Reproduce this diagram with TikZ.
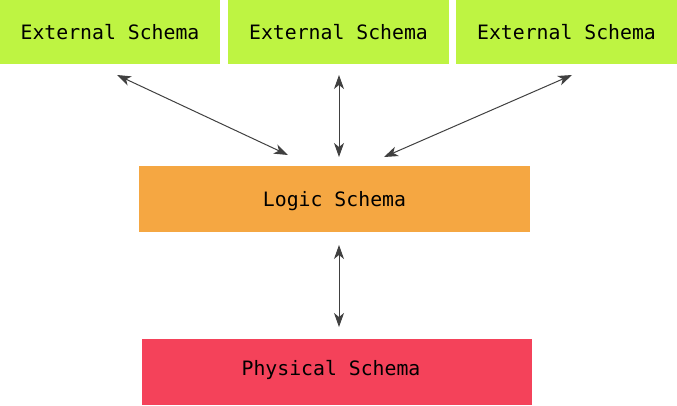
\documentclass[tikz,border=0pt]{standalone}
\usepackage{fontspec}
\setmonofont{DejaVu Sans Mono}
\usetikzlibrary{arrows.meta}
\definecolor{extgreen}{HTML}{BEF442}
\definecolor{logorange}{HTML}{F5A742}
\definecolor{physred}{HTML}{F4425A}
\definecolor{arrowgray}{HTML}{404040}
\begin{document}
\begin{tikzpicture}[x=1pt,y=-1pt,
  box/.style={rectangle,inner sep=0pt,outer sep=0pt,text height=14.4pt,text depth=0pt,
    font=\ttfamily\fontsize{19.8}{21}\selectfont,text=black},
  link/.style={draw=arrowgray,line width=1pt,
    {Stealth[length=14pt,width=10pt,inset=4pt]}-{Stealth[length=14pt,width=10pt,inset=4pt]}}]
\useasboundingbox (0,0) rectangle (677,405);
\node[box,fill=extgreen,minimum width=220pt,minimum height=64pt] (e1) at (110,32) {External Schema};
\node[box,fill=extgreen,minimum width=221pt,minimum height=64pt] (e2) at (338.5,32) {External Schema};
\node[box,fill=extgreen,minimum width=221pt,minimum height=64pt] (e3) at (566.5,32) {External Schema};
\node[box,fill=logorange,minimum width=391pt,minimum height=66pt] (lg) at (334.5,199) {Logic Schema};
\node[box,fill=physred,minimum width=390pt,minimum height=66pt,text depth=8pt] (ph) at (337,372) {Physical Schema\hspace*{12pt}};
\coordinate (a1s) at (117,75);
\coordinate (a1e) at (288,155);
\coordinate (a2s) at (339,75);
\coordinate (a2e) at (339,157);
\coordinate (a3s) at (572,75);
\coordinate (a3e) at (384,157);
\coordinate (a4s) at (339,245);
\coordinate (a4e) at (339,327);
\draw[link] (a1s) -- (a1e);
\draw[link] (a2s) -- (a2e);
\draw[link] (a3s) -- (a3e);
\draw[link] (a4s) -- (a4e);
\end{tikzpicture}
\end{document}
